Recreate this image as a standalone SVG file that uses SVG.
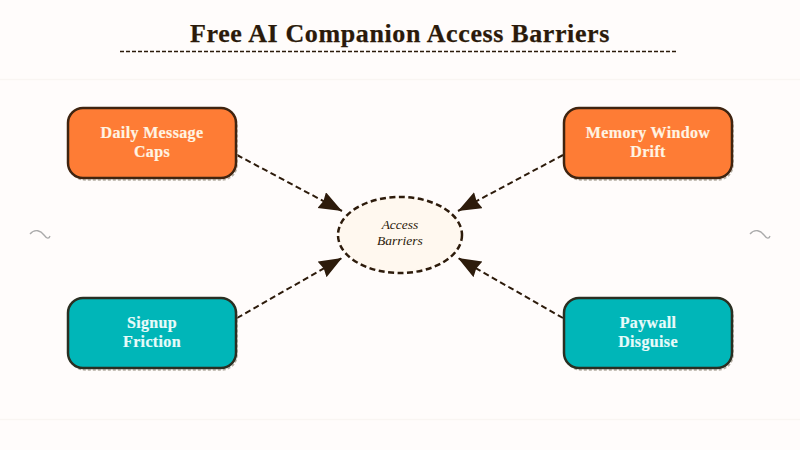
<svg xmlns="http://www.w3.org/2000/svg" width="800" height="450" viewBox="0 0 800 450">
<defs>
<style>
text{font-family:"Liberation Serif","DejaVu Serif",serif;text-anchor:middle}
.title{font-size:26px;font-weight:700;fill:#2b1a0a;letter-spacing:.62px;stroke:#2b1a0a;stroke-width:.25px}
.lab{font-size:16px;font-weight:700;letter-spacing:.35px;stroke-width:.2px}
.box{stroke-width:2.5}
.under{fill:none;stroke:#b5afa4;stroke-width:1.5;stroke-dasharray:3 2}
.edge{fill:none;stroke:#2d1b0b;stroke-width:2;stroke-dasharray:6 3.5;marker-end:url(#arr)}
.sq{fill:none;stroke:#aaa;stroke-width:1.3}
</style>
<marker id="arr" markerUnits="userSpaceOnUse" markerWidth="26" markerHeight="20" refX="23" refY="9" orient="auto"><path d="M0 0L23 9L0 18L2 9Z" fill="#2d1b0b"/></marker>
</defs>
<rect width="800" height="450" fill="#fffcfb"/>
<path d="M0 79.500H800M0 419.500H800" stroke="#f9f5f2" stroke-width="1.500" fill="none"/>
<text class="title" x="400" y="42">Free AI Companion Access Barriers</text>
<path d="M120 51.500H677" stroke="#2b1a0a" stroke-width="1.500" stroke-dasharray="4 2" fill="none"/>
<path class="sq" d="M30 234C35 228 41 231 44 235S49 239 50 236"/>
<path class="sq" d="M750 234C755 228 761 231 764 235S769 239 770 236"/>
<g id="connectors">
<path class="edge" d="M237 155L342 211"/>
<path class="edge" d="M563 155L458 211"/>
<path class="edge" d="M237 318L342 258"/>
<path class="edge" d="M563 318L458 258"/>
</g>
<g id="n1"><rect class="under" x="70" y="110" width="167" height="70" rx="15"/><rect class="box" x="68" y="108" width="168" height="70" rx="15" fill="#fe7c35" stroke="#3f2410"/><text class="lab" fill="#fff4e3" stroke="#fff4e3"><tspan x="152" y="138">Daily Message</tspan><tspan x="152" y="157">Caps</tspan></text></g>
<g id="n2"><rect class="under" x="566" y="110" width="167" height="70" rx="15"/><rect class="box" x="564" y="108" width="168" height="70" rx="15" fill="#fe7c35" stroke="#3f2410"/><text class="lab" fill="#fff4e3" stroke="#fff4e3"><tspan x="648" y="138">Memory Window</tspan><tspan x="648" y="157">Drift</tspan></text></g>
<g id="n3"><rect class="under" x="70" y="300" width="167" height="70" rx="15"/><rect class="box" x="68" y="298" width="168" height="70" rx="15" fill="#00b6b8" stroke="#2a2f22"/><text class="lab" fill="#e8fbfa" stroke="#e8fbfa"><tspan x="152" y="328">Signup</tspan><tspan x="152" y="347">Friction</tspan></text></g>
<g id="n4"><rect class="under" x="566" y="300" width="167" height="70" rx="15"/><rect class="box" x="564" y="298" width="168" height="70" rx="15" fill="#00b6b8" stroke="#2a2f22"/><text class="lab" fill="#e8fbfa" stroke="#e8fbfa"><tspan x="648" y="328">Paywall</tspan><tspan x="648" y="347">Disguise</tspan></text></g>
<g id="center"><ellipse cx="400" cy="235" rx="62" ry="38" fill="#fff8ef" stroke="#2d1b0b" stroke-width="2.500" stroke-dasharray="6 3.500"/><text font-size="13.500" font-style="italic" fill="#2b1a0a"><tspan x="400" y="229">Access</tspan><tspan x="400" y="245">Barriers</tspan></text></g>
</svg>
